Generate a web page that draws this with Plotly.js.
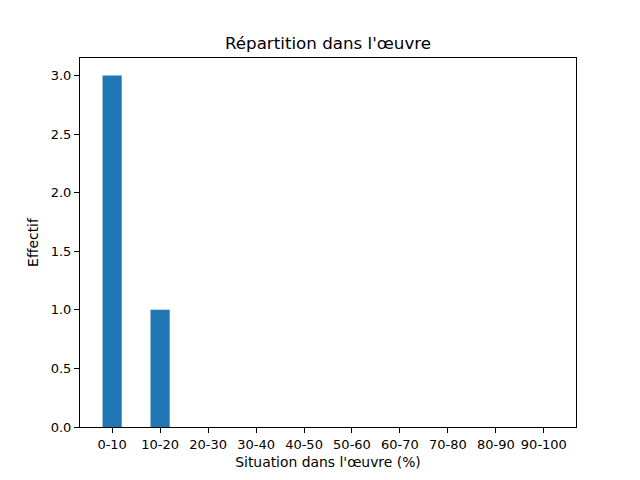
<!DOCTYPE html>
<html>
<head>
<meta charset="utf-8">
<script src="https://cdn.plot.ly/plotly-3.0.1.min.js"></script>
<style>html,body{margin:0;padding:0;background:#fff;}</style>
</head>
<body>
<div id="chart" style="width:640px;height:480px;"></div>
<script>
var categories = ['0-10', '10-20', '20-30', '30-40', '40-50', '50-60', '60-70', '70-80', '80-90', '90-100'];
var counts = [3, 1, 0, 0, 0, 0, 0, 0, 0, 0];
var yTicks = [0, 0.5, 1, 1.5, 2, 2.5, 3];

var trace = {
  x: categories,
  y: counts,
  type: 'bar',
  width: 0.4,
  marker: {color: '#1f77b4'},
  hoverinfo: 'x+y'
};

var axisStyle = {
  showline: true,
  mirror: true,
  linecolor: '#000',
  linewidth: 1,
  ticks: 'outside',
  ticklen: 5,
  tickwidth: 1,
  tickcolor: '#000',
  showgrid: false,
  zeroline: false,
  tickfont: {size: 13, color: '#000'}
};

var layout = {
  width: 640,
  height: 480,
  margin: {l: 80, r: 64, t: 58, b: 53},
  paper_bgcolor: '#fff',
  plot_bgcolor: '#fff',
  font: {family: 'DejaVu Sans, sans-serif', color: '#000', size: 13},
  showlegend: false,
  title: {
    text: "Répartition dans l'œuvre",
    font: {size: 16.7, color: '#000'},
    x: 0.5125,
    xanchor: 'center',
    y: 1 - 43 / 480,
    yanchor: 'middle',
    yref: 'container'
  },
  xaxis: Object.assign({}, axisStyle, {
    type: 'category',
    range: [-0.67, 9.67],
    title: {text: "Situation dans l'œuvre (%)", font: {size: 13.9, color: '#000'}, standoff: 6}
  }),
  yaxis: Object.assign({}, axisStyle, {
    range: [0, 3.15],
    tickvals: yTicks,
    tickformat: '.1f',
    title: {text: 'Effectif', font: {size: 13.9, color: '#000'}, standoff: 8}
  })
};

Plotly.newPlot('chart', [trace], layout, {displayModeBar: false, staticPlot: true});
</script>
</body>
</html>
